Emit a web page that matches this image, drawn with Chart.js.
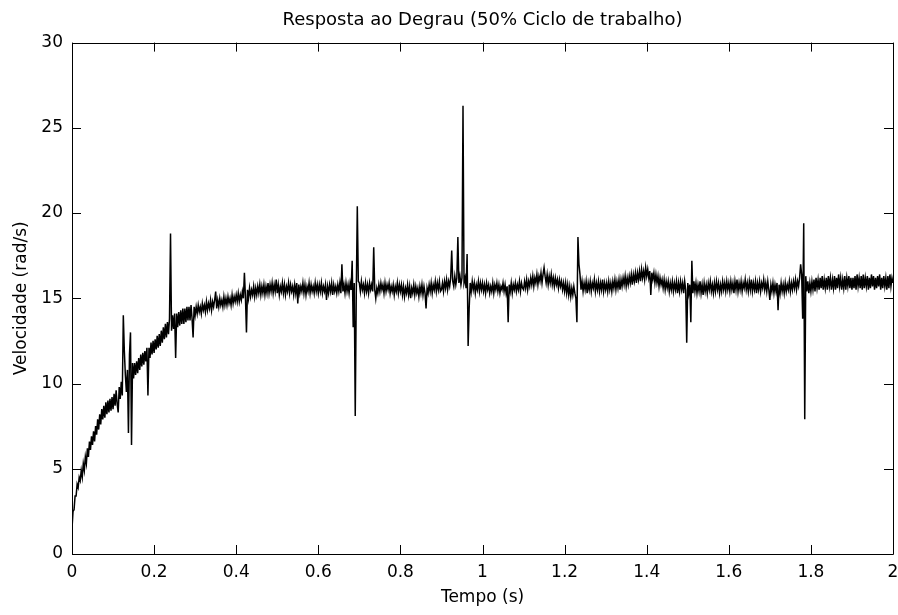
<!DOCTYPE html>
<html>
<head>
<meta charset="utf-8">
<script src="https://cdn.jsdelivr.net/npm/chart.js@4"></script>
<style>
  html, body { margin: 0; padding: 0; background: #fff; }
  canvas { display: block; }
</style>
</head>
<body>
<canvas id="grafico" width="898" height="615"></canvas>
<script>
// Periodo de amostragem (s)
const passo = 0.0025;

// Velocidade medida (rad/s), 40 amostras por 0.1 s
const vel_00 = [1.5, 2.5, 2.6, 3.4, 3.4, 4.1, 3.9, 4.5, 4.3, 4.9,
                4.5, 5.3, 4.9, 5.7, 5.3, 6.2, 5.7, 6.6, 6.1, 6.9,
                6.4, 7.2, 6.6, 7.5, 7.0, 7.9, 7.3, 8.2, 7.6, 8.5,
                7.9, 8.7, 8.0, 8.9, 8.2, 9.0, 8.3, 9.1, 8.4, 9.2];
const vel_01 = [8.5, 9.4, 8.7, 9.6, 8.8, 8.3, 9.8, 9.1, 10.1, 9.3,
                14.0, 11.9, 10.5, 9.5, 10.8, 7.1, 11.7, 13.0, 6.4, 11.2,
                10.3, 11.2, 10.5, 11.3, 10.6, 11.5, 10.8, 11.7, 11.0, 11.8,
                11.1, 11.9, 11.3, 12.1, 9.3, 12.1, 11.5, 12.4, 11.7, 12.5];
const vel_02 = [11.8, 12.6, 12.0, 12.8, 12.1, 12.9, 12.2, 13.1, 12.4, 13.3,
                12.6, 13.5, 12.7, 13.6, 12.9, 13.8, 18.8, 13.1, 14.0, 13.2,
                14.1, 11.5, 14.1, 13.3, 14.2, 13.4, 14.3, 13.5, 14.4, 13.5,
                14.4, 13.6, 14.5, 13.7, 14.5, 13.7, 14.6, 13.8, 12.7, 14.5];
const vel_03 = [14.0, 14.5, 14.1, 14.6, 14.2, 14.5, 14.1, 14.7, 14.3, 14.6,
                14.2, 14.8, 14.3, 14.7, 14.4, 14.9, 14.3, 14.8, 14.5, 14.9,
                15.4, 14.4, 14.9, 14.5, 15.0, 14.6, 14.9, 14.5, 15.1, 14.6,
                15.0, 14.6, 15.1, 14.7, 15.0, 14.6, 15.2, 14.7, 15.1, 14.8];
const vel_04 = [15.2, 14.8, 15.3, 14.8, 15.2, 14.9, 15.4, 15.0, 16.5, 15.1,
                13.0, 15.5, 15.0, 15.6, 15.1, 15.5, 15.2, 15.7, 15.1, 15.6,
                15.2, 15.7, 15.3, 15.8, 15.2, 15.7, 15.3, 15.8, 15.2, 15.7,
                15.3, 15.9, 15.3, 15.8, 15.4, 15.9, 15.3, 15.8, 15.4, 16.1];
const vel_05 = [15.3, 15.8, 15.2, 15.7, 15.4, 15.9, 15.3, 15.8, 15.2, 15.7,
                15.4, 15.9, 15.3, 15.8, 15.4, 15.7, 15.2, 15.8, 15.3, 15.9,
                14.7, 15.8, 15.3, 15.7, 15.4, 15.9, 15.3, 15.8, 15.2, 15.7,
                15.4, 15.9, 15.3, 15.8, 15.4, 15.7, 15.3, 15.9, 15.4, 15.8];
const vel_06 = [15.3, 15.8, 15.4, 15.9, 15.3, 15.7, 15.4, 15.8, 14.9, 15.7,
                15.3, 15.8, 15.4, 15.9, 15.2, 15.8, 15.4, 15.7, 15.3, 15.8,
                15.4, 15.9, 15.3, 17.0, 15.4, 15.8, 15.3, 15.9, 15.4, 15.8,
                15.3, 15.9, 15.5, 17.2, 13.3, 15.9, 8.1, 15.3, 20.4, 16.0];
const vel_07 = [15.9, 15.4, 16.0, 15.5, 15.8, 15.3, 15.9, 15.4, 15.8, 15.3,
                15.9, 15.5, 15.8, 15.4, 18.0, 15.5, 15.0, 15.6, 15.3, 15.8,
                15.4, 15.9, 15.5, 15.8, 15.3, 15.9, 15.4, 15.8, 15.5, 15.9,
                15.3, 15.7, 15.4, 15.8, 15.2, 15.7, 15.4, 15.9, 15.3, 15.8];
const vel_08 = [15.4, 15.8, 15.2, 15.7, 15.1, 15.6, 15.3, 15.8, 15.2, 15.7,
                15.0, 15.6, 15.3, 15.8, 15.2, 15.7, 15.3, 15.6, 15.1, 15.7,
                15.3, 15.8, 15.2, 15.7, 15.3, 14.4, 15.6, 15.3, 15.8, 15.4,
                15.9, 15.3, 15.8, 15.5, 16.0, 15.4, 15.9, 15.5, 16.0, 15.4];
const vel_09 = [15.5, 15.9, 15.4, 16.0, 15.6, 16.1, 15.5, 16.0, 15.7, 16.2,
                17.8, 16.0, 15.7, 16.3, 15.8, 16.2, 18.6, 15.9, 16.3, 15.8,
                16.2, 26.3, 15.9, 16.2, 15.6, 17.6, 12.2, 14.4, 15.9, 15.4,
                16.0, 15.5, 15.9, 15.3, 15.8, 15.5, 16.0, 15.4, 15.9, 15.5];
const vel_10 = [15.9, 15.4, 15.8, 15.3, 15.9, 15.5, 15.8, 15.3, 15.7, 15.4,
                15.9, 15.3, 15.8, 15.5, 15.9, 15.4, 15.8, 15.3, 15.7, 15.5,
                15.9, 15.4, 15.8, 15.3, 15.7, 13.6, 15.8, 15.4, 15.9, 15.3,
                15.8, 15.5, 15.9, 15.4, 15.8, 15.5, 16.0, 15.4, 15.9, 15.6];
const vel_11 = [15.5, 16.0, 15.6, 16.1, 15.5, 16.0, 15.7, 16.2, 15.8, 16.3,
                15.7, 16.2, 15.9, 16.4, 15.8, 16.3, 16.0, 16.5, 15.9, 16.4,
                16.8, 16.3, 15.9, 16.4, 15.8, 16.3, 15.9, 16.4, 15.8, 16.2,
                15.7, 16.2, 15.8, 16.1, 15.6, 16.1, 15.7, 16.0, 15.5, 15.9];
const vel_12 = [15.4, 15.9, 15.3, 15.8, 15.2, 15.7, 15.1, 15.6, 15.2, 15.7,
                15.3, 15.0, 13.6, 18.6, 17.0, 16.4, 15.5, 16.0, 15.4, 15.9,
                15.5, 16.0, 15.3, 15.9, 15.5, 16.0, 15.4, 15.9, 15.6, 16.1,
                15.4, 15.9, 15.5, 16.0, 15.4, 15.9, 15.5, 16.1, 15.4, 15.9];
const vel_13 = [15.5, 15.9, 15.4, 16.0, 15.5, 15.9, 15.4, 16.0, 15.6, 16.1,
                15.5, 16.0, 15.6, 16.1, 15.5, 16.1, 15.7, 16.2, 15.8, 16.3,
                15.7, 16.2, 15.8, 16.3, 15.9, 16.4, 15.8, 16.4, 16.0, 16.5,
                15.9, 16.5, 16.1, 16.6, 16.0, 16.7, 16.2, 16.6, 16.1, 16.8];
const vel_14 = [16.3, 16.7, 16.2, 16.6, 15.2, 16.5, 16.1, 16.5, 15.9, 16.4,
                15.9, 16.3, 15.7, 16.2, 15.8, 16.1, 15.6, 16.1, 15.5, 16.0,
                15.6, 16.0, 15.4, 15.9, 15.5, 16.0, 15.4, 15.9, 15.5, 16.0,
                15.3, 15.9, 15.4, 16.0, 15.5, 15.9, 15.3, 16.0, 15.5, 12.4];
const vel_15 = [15.9, 15.3, 15.8, 13.6, 17.2, 15.3, 16.0, 15.4, 15.9, 15.3,
                15.8, 15.4, 16.0, 15.3, 15.8, 15.2, 15.9, 15.4, 15.8, 15.3,
                15.9, 15.5, 16.0, 15.4, 15.8, 15.3, 15.9, 15.4, 16.0, 15.5,
                15.9, 15.3, 15.8, 15.4, 16.0, 15.5, 15.9, 15.4, 16.0, 15.5];
const vel_16 = [15.9, 15.4, 16.0, 15.5, 15.9, 15.3, 16.0, 15.5, 16.1, 15.4,
                15.9, 15.5, 16.0, 15.4, 15.9, 15.6, 16.1, 15.5, 15.9, 15.4,
                16.0, 15.5, 16.1, 15.4, 15.9, 15.5, 16.0, 15.3, 15.9, 15.5,
                16.0, 15.4, 15.9, 15.6, 16.1, 15.5, 15.9, 15.4, 16.0, 15.5];
const vel_17 = [14.9, 15.8, 15.4, 15.9, 15.3, 15.8, 15.4, 15.9, 14.3, 15.8,
                15.3, 15.9, 15.4, 15.8, 15.3, 15.9, 15.4, 15.8, 15.5, 16.0,
                15.4, 15.9, 15.5, 16.0, 15.6, 16.1, 15.5, 16.0, 15.7, 16.2,
                17.0, 16.4, 13.8, 19.4, 7.9, 16.3, 15.4, 16.0, 15.3, 15.9];
const vel_18 = [15.4, 16.0, 15.5, 16.1, 15.4, 16.2, 15.6, 16.1, 15.5, 16.2,
                15.6, 16.3, 15.5, 16.1, 15.6, 16.2, 15.5, 16.3, 15.7, 16.2,
                15.5, 16.1, 15.6, 16.3, 15.5, 16.2, 15.6, 16.4, 15.7, 16.2,
                15.5, 16.1, 15.6, 16.3, 15.5, 16.2, 15.7, 16.3, 15.6, 16.2];
const vel_19 = [15.5, 16.2, 15.6, 16.3, 15.5, 16.4, 15.7, 16.2, 15.6, 16.3,
                15.5, 16.4, 15.6, 16.2, 15.7, 16.3, 15.5, 16.2, 15.6, 16.4,
                15.7, 16.3, 15.5, 16.2, 15.6, 16.3, 15.7, 16.4, 15.5, 16.2,
                15.6, 16.3, 15.7, 16.2, 15.5, 16.3, 15.6, 16.4, 15.7, 16.2,
                15.9];

const velocidade = [].concat(vel_00, vel_01, vel_02, vel_03, vel_04, vel_05, vel_06, vel_07, vel_08, vel_09,
                             vel_10, vel_11, vel_12, vel_13, vel_14, vel_15, vel_16, vel_17, vel_18, vel_19);

// Rótulos dos eixos
const ticksX = [0, 0.2, 0.4, 0.6, 0.8, 1, 1.2, 1.4, 1.6, 1.8, 2];
const ticksY = [0, 5, 10, 15, 20, 25, 30];

const pontos = velocidade.map((v, i) => ({ x: +(i * passo).toFixed(4), y: v }));

const fonte = { family: 'DejaVu Sans', size: 17 };

// Moldura e marcas para dentro, estilo MATLAB
const moldura = {
    id: 'moldura',
    afterDraw(chart) {
        const { ctx, chartArea: a, scales: { x, y } } = chart;
        const L = 9;
        ctx.save();
        ctx.strokeStyle = '#000';
        ctx.lineWidth = 1;
        ctx.beginPath();
        ctx.rect(Math.round(a.left) + 0.5, Math.round(a.top) + 0.5,
                 Math.round(a.right) - Math.round(a.left), Math.round(a.bottom) - Math.round(a.top));
        ticksX.forEach(v => {
            const px = Math.round(x.getPixelForValue(v)) + 0.5;
            ctx.moveTo(px, a.bottom); ctx.lineTo(px, a.bottom - L);
            ctx.moveTo(px, a.top); ctx.lineTo(px, a.top + L);
        });
        ticksY.forEach(v => {
            const py = Math.round(y.getPixelForValue(v)) + 0.5;
            ctx.moveTo(a.left, py); ctx.lineTo(a.left + L, py);
            ctx.moveTo(a.right, py); ctx.lineTo(a.right - L, py);
        });
        ctx.stroke();
        ctx.restore();
    }
};

new Chart(document.getElementById('grafico').getContext('2d'), {
    type: 'line',
    data: {
        datasets: [{
            data: pontos,
            borderColor: '#000',
            borderWidth: 1.5,
            pointRadius: 0,
            tension: 0,
            fill: false
        }]
    },
    options: {
        responsive: false,
        animation: false,
        events: [],
        layout: { padding: { left: 0, right: 5, top: 0, bottom: 0 } },
        plugins: {
            legend: { display: false },
            tooltip: { enabled: false },
            title: {
                display: true,
                text: 'Resposta ao Degrau (50% Ciclo de trabalho)',
                color: '#000',
                font: { family: 'DejaVu Sans', size: 18, weight: 'normal' },
                fullSize: false,
                padding: { top: 10, bottom: 11 }
            }
        },
        scales: {
            x: {
                type: 'linear',
                min: 0,
                max: 2,
                afterBuildTicks: s => { s.ticks = ticksX.map(v => ({ value: v })); },
                ticks: {
                    color: '#000',
                    font: fonte,
                    padding: 8,
                    maxRotation: 0,
                    autoSkip: false,
                    callback: v => String(v)
                },
                grid: { display: false, drawTicks: false },
                border: { display: false },
                title: { display: true, text: 'Tempo (s)', color: '#000', font: fonte, padding: { top: 0, bottom: 7 } },
                afterFit: s => { s.height = 61; s.paddingLeft = 0; s.paddingRight = 0; }
            },
            y: {
                min: 0,
                max: 30,
                afterBuildTicks: s => { s.ticks = ticksY.map(v => ({ value: v })); },
                ticks: {
                    color: '#000',
                    font: fonte,
                    padding: 9,
                    autoSkip: false,
                    callback: v => String(v)
                },
                grid: { display: false, drawTicks: false },
                border: { display: false },
                title: { display: true, text: 'Velocidade (rad/s)', color: '#000', font: fonte, padding: { top: 11, bottom: 0 } },
                afterFit: s => { s.width = 72; s.paddingTop = 0; s.paddingBottom = 0; }
            }
        }
    },
    plugins: [moldura]
});
</script>
</body>
</html>
